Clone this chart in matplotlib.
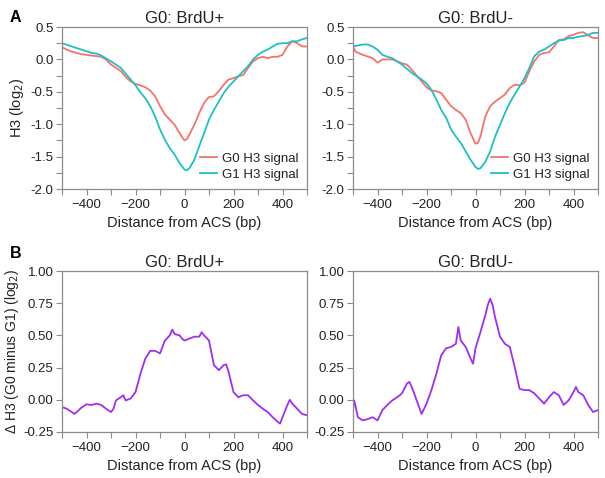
import numpy as np
import matplotlib
matplotlib.use('Agg')
import matplotlib.pyplot as plt
from matplotlib.ticker import MultipleLocator

plt.rcParams['font.family'] = ['Liberation Sans', 'DejaVu Sans']

# panel A, BrdU+ (distance in bp, H3 log2)
a1_g0_x = [-500, -480, -460, -440, -420, -400, -380, -360, -340, -320, -300, -280, -260, -240,
           -220, -200, -180, -160, -140, -120, -100, -80, -60, -40, -20, 0, 10, 20, 40, 60,
           80, 100, 120, 140, 160, 180, 200, 220, 240, 260, 280, 300, 320, 340, 360, 380,
           400, 420, 440, 460, 480, 500]
a1_g0_y = [0.19, 0.15, 0.12, 0.10, 0.08, 0.07, 0.06, 0.05, 0.04, 0.0, -0.08, -0.13, -0.18, -0.27,
           -0.34, -0.38, -0.40, -0.43, -0.48, -0.57, -0.72, -0.85, -0.93, -1.01, -1.14, -1.25, -1.23, -1.16, -1.01, -0.83,
           -0.67, -0.58, -0.57, -0.49, -0.39, -0.31, -0.29, -0.26, -0.24, -0.13, -0.03, 0.02, 0.04, 0.02, 0.04, 0.04,
           0.07, 0.20, 0.28, 0.25, 0.20, 0.20]
a1_g1_x = [-500, -460, -420, -380, -360, -340, -300, -260, -220, -200, -180, -160, -140, -120,
           -100, -80, -60, -40, -20, 0, 10, 20, 40, 60, 80, 100, 120, 140, 160, 180, 200,
           220, 240, 260, 280, 300, 320, 340, 360, 380, 400, 420, 440, 460, 480, 500]
a1_g1_y = [0.25, 0.20, 0.15, 0.10, 0.09, 0.06, -0.03, -0.13, -0.31, -0.40, -0.51, -0.60, -0.72, -0.88,
           -1.08, -1.24, -1.37, -1.47, -1.60, -1.70, -1.71, -1.68, -1.55, -1.34, -1.14, -0.93, -0.78, -0.65, -0.52, -0.42, -0.34,
           -0.26, -0.18, -0.10, 0.00, 0.07, 0.12, 0.15, 0.20, 0.24, 0.25, 0.25, 0.28, 0.28, 0.31, 0.33]

# panel A, BrdU-
a2_g0_x = [-500, -490, -460, -420, -400, -380, -340, -320, -300, -280, -260, -240, -220, -200,
           -180, -160, -140, -120, -100, -80, -60, -40, -20, 0, 10, 20, 40, 60, 80, 100, 120,
           140, 160, 180, 200, 220, 240, 260, 280, 300, 320, 340, 360, 380, 400, 420, 440,
           460, 480, 500]
a2_g0_y = [0.20, 0.12, 0.07, 0.02, -0.05, 0.0, 0.0, -0.03, -0.06, -0.08, -0.16, -0.25, -0.34, -0.43,
           -0.48, -0.49, -0.52, -0.62, -0.72, -0.78, -0.83, -0.93, -1.14, -1.30, -1.29, -1.19, -0.88, -0.72, -0.65, -0.60, -0.54,
           -0.44, -0.39, -0.40, -0.36, -0.18, -0.03, 0.07, 0.10, 0.11, 0.20, 0.30, 0.31, 0.36, 0.38, 0.41, 0.42,
           0.37, 0.33, 0.33]
a2_g1_x = [-500, -460, -440, -420, -400, -380, -360, -340, -320, -300, -260, -220, -200, -180,
           -160, -140, -120, -100, -80, -60, -40, -20, 0, 10, 20, 40, 60, 80, 100, 120, 140,
           160, 180, 200, 220, 240, 260, 280, 300, 320, 340, 360, 380, 400, 420, 440, 460,
           480, 500]
a2_g1_y = [0.20, 0.23, 0.23, 0.20, 0.15, 0.07, 0.04, 0.02, -0.03, -0.08, -0.21, -0.31, -0.37, -0.47,
           -0.62, -0.78, -0.90, -1.08, -1.19, -1.29, -1.42, -1.55, -1.66, -1.69, -1.68, -1.58, -1.42, -1.19, -1.01, -0.83, -0.67,
           -0.54, -0.42, -0.29, -0.13, 0.05, 0.12, 0.15, 0.20, 0.25, 0.29, 0.30, 0.33, 0.33, 0.35, 0.36, 0.38,
           0.41, 0.41]

# panel B, delta H3 (G0 minus G1)
b1_x = [-500, -480, -460, -450, -440, -420, -400, -380, -360, -340, -320, -300, -290, -280,
        -260, -250, -240, -220, -200, -180, -160, -140, -120, -100, -80, -60, -50, -40, -20,
        -10, 0, 20, 40, 60, 70, 80, 100, 120, 140, 160, 170, 180, 200, 220, 240, 260, 280,
        300, 320, 340, 360, 380, 390, 400, 420, 430, 440, 460, 480, 500]
b1_y = [-0.056, -0.07, -0.095, -0.11, -0.095, -0.06, -0.035, -0.04, -0.03, -0.04, -0.07, -0.095, -0.07, -0.005,
        0.02, 0.035, -0.005, 0.01, 0.06, 0.20, 0.32, 0.38, 0.38, 0.36, 0.46, 0.50, 0.545, 0.51, 0.50,
        0.475, 0.46, 0.475, 0.49, 0.49, 0.525, 0.50, 0.46, 0.27, 0.23, 0.27, 0.275, 0.215, 0.06, 0.02, 0.035, 0.035, -0.005,
        -0.04, -0.07, -0.095, -0.135, -0.17, -0.185, -0.135, -0.04, 0.0, -0.03, -0.07, -0.11, -0.12]
b2_x = [-500, -495, -480, -460, -440, -420, -400, -380, -360, -340, -320, -300, -280, -270,
        -260, -240, -220, -200, -180, -160, -140, -120, -100, -80, -70, -60, -40, -20, -10,
        0, 20, 40, 50, 60, 70, 80, 100, 120, 140, 160, 180, 200, 220, 240, 260, 280, 300,
        320, 340, 360, 380, 400, 410, 420, 440, 460, 480, 500]
b2_y = [-0.07, -0.005, -0.135, -0.16, -0.15, -0.135, -0.16, -0.08, -0.04, -0.005, 0.02, 0.05, 0.125, 0.14,
        0.10, -0.005, -0.11, -0.03, 0.075, 0.20, 0.345, 0.40, 0.41, 0.435, 0.565, 0.46, 0.41, 0.32, 0.28,
        0.40, 0.525, 0.655, 0.735, 0.785, 0.735, 0.64, 0.49, 0.435, 0.41, 0.255, 0.085, 0.075, 0.075, 0.05, 0.01, -0.03, 0.02,
        0.06, 0.035, -0.04, -0.005, 0.06, 0.10, 0.06, 0.035, -0.04, -0.095, -0.08]

RED = '#F5736B'
CYAN = '#1DC0C6'
PURPLE = '#9E2FF2'
GRAY = '#8C8C8C'
TXT = '#222222'

fig = plt.figure(figsize=(6.05, 4.78), dpi=100)

W, H = 605, 478
def make_ax(left, top, right, bottom):
    return fig.add_axes([left / W, 1 - bottom / H, (right - left) / W, (bottom - top) / H])

ax_a1 = make_ax(62, 27, 307, 189)
ax_a2 = make_ax(353, 27, 598, 189)
ax_b1 = make_ax(62, 271, 307, 432)
ax_b2 = make_ax(353, 271, 598, 432)


def style(ax, title):
    ax.set_xlim(-500, 500)
    ax.xaxis.set_major_locator(MultipleLocator(200))
    ax.xaxis.set_minor_locator(MultipleLocator(100))
    for s in ax.spines.values():
        s.set_color(GRAY)
        s.set_linewidth(0.9)
    ax.tick_params(which='both', direction='out', length=4, width=0.8, color=GRAY,
                   labelsize=9.5, labelcolor=TXT, pad=2)
    ax.tick_params(axis='x', pad=3.5)
    ax.set_xlabel('Distance from ACS (bp)', fontsize=10.5, color=TXT, labelpad=3)
    ax.set_title(title, fontsize=12, color=TXT, pad=3)


for ax, g0x, g0y, g1x, g1y, title in [
        (ax_a1, a1_g0_x, a1_g0_y, a1_g1_x, a1_g1_y, 'G0: BrdU+'),
        (ax_a2, a2_g0_x, a2_g0_y, a2_g1_x, a2_g1_y, 'G0: BrdU-')]:
    ax.plot(g0x, g0y, color=RED, lw=1.3, label='G0 H3 signal')
    ax.plot(g1x, g1y, color=CYAN, lw=1.3, label='G1 H3 signal')
    ax.set_ylim(-2.0, 0.5)
    ax.yaxis.set_major_locator(MultipleLocator(0.5))
    ax.yaxis.set_minor_locator(MultipleLocator(0.25))
    ax.yaxis.set_major_formatter(plt.FormatStrFormatter('%.1f'))
    style(ax, title)
    ax.legend(loc='lower right', frameon=False, fontsize=9.5, handlelength=1.3,
              handletextpad=0.4, labelspacing=0.3, borderaxespad=0.2,
              labelcolor=TXT)
ax_a1.set_ylabel('H3 (log$_2$)', fontsize=10.5, color=TXT, labelpad=3)

for ax, bx, by, title in [(ax_b1, b1_x, b1_y, 'G0: BrdU+'), (ax_b2, b2_x, b2_y, 'G0: BrdU-')]:
    ax.plot(bx, by, color=PURPLE, lw=1.3)
    ax.set_ylim(-0.25, 1.0)
    ax.yaxis.set_major_locator(MultipleLocator(0.25))
    ax.yaxis.set_major_formatter(plt.FormatStrFormatter('%.2f'))
    style(ax, title)
ax_b1.set_ylabel('\u0394 H3 (G0 minus G1) (log$_2$)', fontsize=10, color=TXT, labelpad=2)

fig.text(10 / W, 1 - 18 / H, 'A', fontsize=11.5, fontweight='bold', va='center', ha='left')
fig.text(10 / W, 1 - 254 / H, 'B', fontsize=11.5, fontweight='bold', va='center', ha='left')

fig.savefig('out.png', dpi=100)
